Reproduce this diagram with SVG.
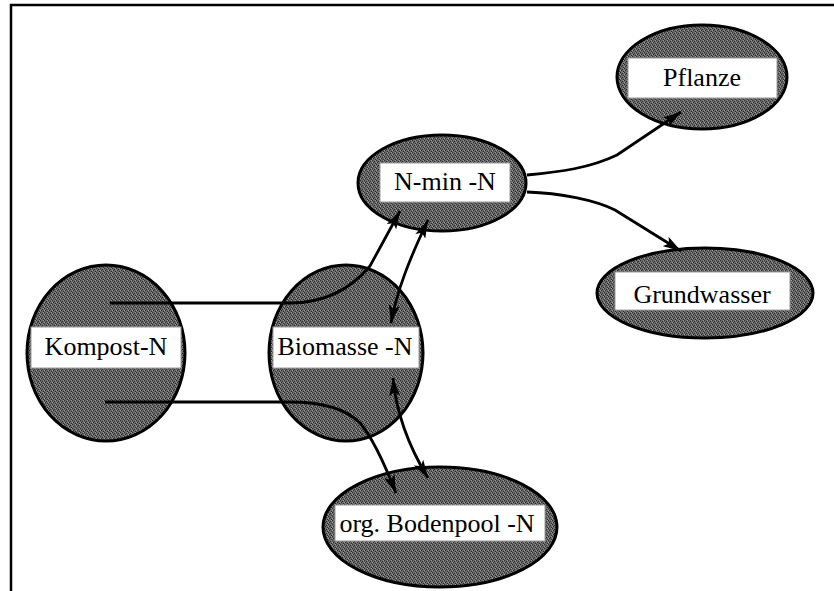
<svg xmlns="http://www.w3.org/2000/svg" width="834" height="591" viewBox="0 0 834 591">
<style>
.node{fill:url(#ht);stroke:#000;stroke-width:3}
.band{fill:#fff;stroke:#9a9a9a;stroke-width:1}
.lbl{font-family:"Liberation Serif","Times New Roman",serif;font-size:26px;fill:#000;text-anchor:middle}
.conn{fill:none;stroke:#000;stroke-width:2.8}
.frame{stroke:#000;stroke-width:2.5;fill:none}
</style>
<defs>
<pattern id="ht" width="4" height="4" patternUnits="userSpaceOnUse">
<rect width="4" height="4" fill="#6a6a6a"/>
<rect x="0" y="0" width="1" height="1" fill="#2a2a2a"/>
<rect x="2" y="1" width="1" height="1" fill="#2a2a2a"/>
<rect x="1" y="2" width="1" height="1" fill="#2a2a2a"/>
<rect x="3" y="3" width="1" height="1" fill="#2a2a2a"/>
<rect x="3" y="0" width="1" height="1" fill="#999"/>
<rect x="0" y="2" width="1" height="1" fill="#999"/>
</pattern>
<marker id="ah" viewBox="0 0 18 11" refX="18" refY="5.5" markerWidth="18" markerHeight="11" markerUnits="userSpaceOnUse" orient="auto-start-reverse">
<path d="M0,0 L18,5.5 L0,11 L4,5.5 z" fill="#000"/>
</marker>
</defs>
<rect width="834" height="591" fill="#fff"/>
<path class="frame" d="M11,591 V5 H834"/>
<g id="kompost">
<ellipse class="node" cx="106" cy="353" rx="79" ry="88"/>
<rect class="band" x="31" y="327" width="150" height="41"/>
<text class="lbl" x="106" y="355">Kompost-N</text>
</g>
<g id="biomasse">
<ellipse class="node" cx="346" cy="353" rx="77" ry="88"/>
<rect class="band" x="273" y="327" width="146" height="41"/>
<text class="lbl" x="345" y="355">Biomasse -N</text>
</g>
<g id="nmin">
<ellipse class="node" cx="442" cy="183" rx="84" ry="48"/>
<rect class="band" x="380" y="163" width="130" height="39"/>
<text class="lbl" x="445" y="190">N-min -N</text>
</g>
<g id="pflanze">
<ellipse class="node" cx="702" cy="77" rx="85" ry="52"/>
<rect class="band" x="628" y="58" width="149" height="40"/>
<text class="lbl" x="702" y="86">Pflanze</text>
</g>
<g id="grundwasser">
<ellipse class="node" cx="705" cy="293" rx="108" ry="45"/>
<rect class="band" x="615" y="272" width="175" height="38"/>
<text class="lbl" x="702" y="303">Grundwasser</text>
</g>
<g id="bodenpool">
<ellipse class="node" cx="440" cy="527" rx="117" ry="60"/>
<rect class="band" x="335" y="505" width="210" height="36"/>
<text class="lbl" x="437" y="532">org. Bodenpool -N</text>
</g>
<g id="connectors">
<path class="conn" marker-end="url(#ah)" d="M110,303 H290 C325,303 350,290 370,266 L400,211"/>
<path class="conn" marker-start="url(#ah)" marker-end="url(#ah)" d="M391,323 C397,290 410,258 428,220"/>
<path class="conn" marker-end="url(#ah)" d="M105,402 H290 C322,402 345,408 360,423 C373,438 385,465 396,493"/>
<path class="conn" marker-start="url(#ah)" marker-end="url(#ah)" d="M393,378 C396,410 406,442 428,478"/>
<path class="conn" marker-end="url(#ah)" d="M527,175 C560,172 590,168 617,155 L681,112"/>
<path class="conn" marker-end="url(#ah)" d="M527,192 C560,193 595,200 615,210 L681,251"/>
</g>
</svg>
